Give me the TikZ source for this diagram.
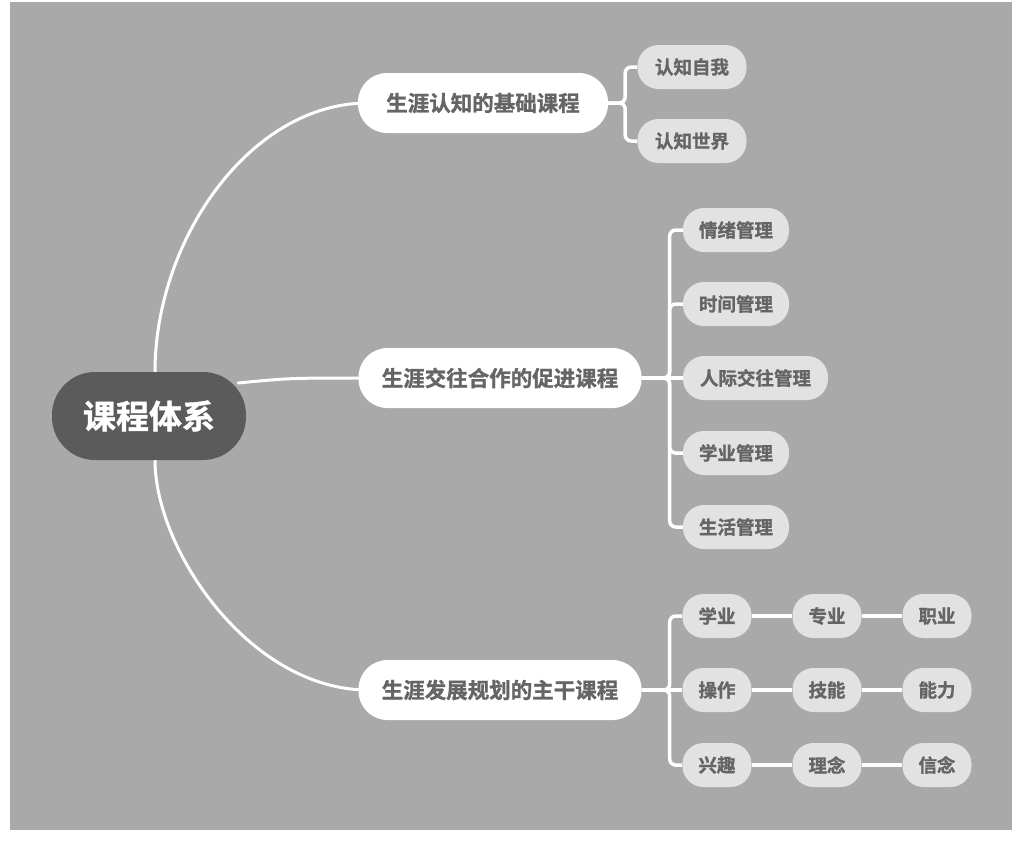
\documentclass[tikz,border=0pt]{standalone}
\usepackage{fontspec}
\newfontfamily\cjk{Noto Sans CJK SC}[BoldFont={Noto Sans CJK SC Bold}, BoldFeatures={FakeBold=1.2}]
\pgfdeclarelayer{back}
\pgfdeclarelayer{lines}
\pgfsetlayers{back,lines,main}
\definecolor{bggray}{HTML}{A9A9A9}
\definecolor{rootfill}{HTML}{5B5B5B}
\definecolor{leaffill}{HTML}{E2E2E2}
\definecolor{txtgray}{HTML}{656565}
\tikzset{
  rootbox/.style={fill=rootfill, rounded corners=43pt, minimum width=194pt, minimum height=88pt, inner sep=0pt, text=white, font=\cjk\bfseries\fontsize{33}{33}\selectfont},
  mainbox/.style={fill=white, rounded corners=29pt, minimum height=60pt, inner sep=0pt, text=txtgray, font=\cjk\bfseries\fontsize{21.5}{22}\selectfont},
  leafbox/.style={fill=leaffill, rounded corners=21pt, minimum height=44pt, inner sep=0pt, text=txtgray, font=\cjk\bfseries\fontsize{18.5}{19}\selectfont},
  link/.style={draw=white, line width=3pt, line cap=round},
  brace/.style={draw=white, line width=3.5pt, rounded corners=6pt}
}
\begin{document}
\begin{tikzpicture}[x=1pt,y=-1pt]
\useasboundingbox (0,0) rectangle (1021,855);
\begin{pgfonlayer}{back}
\fill[white] (0,0) rectangle (1021,855);
\fill[bggray] (10,2) rectangle (1012,830);
\end{pgfonlayer}

\node[rootbox] (root) at (149,416) {课程体系};

\node[mainbox, minimum width=250pt] (m1) at (483,103) {生涯认知的基础课程};
\node[mainbox, minimum width=283pt] (m2) at (500,378) {生涯交往合作的促进课程};
\node[mainbox, minimum width=283pt] (m3) at (500,690) {生涯发展规划的主干课程};

\node[leafbox, minimum width=109pt] (a1) at (692,67) {认知自我};
\node[leafbox, minimum width=109pt] (a2) at (692,141) {认知世界};

\node[leafbox, minimum width=106pt] (b1) at (736,230) {情绪管理};
\node[leafbox, minimum width=106pt] (b2) at (736,304) {时间管理};
\node[leafbox, minimum width=145pt] (b3) at (755.5,378) {人际交往管理};
\node[leafbox, minimum width=106pt] (b4) at (736,453) {学业管理};
\node[leafbox, minimum width=106pt] (b5) at (736,527) {生活管理};

\node[leafbox, minimum width=69pt] (c11) at (717,616) {学业};
\node[leafbox, minimum width=69pt] (c12) at (827,616) {专业};
\node[leafbox, minimum width=69pt] (c13) at (937,616) {职业};
\node[leafbox, minimum width=69pt] (c21) at (717,690) {操作};
\node[leafbox, minimum width=69pt] (c22) at (827,690) {技能};
\node[leafbox, minimum width=69pt] (c23) at (937,690) {能力};
\node[leafbox, minimum width=69pt] (c31) at (717,765) {兴趣};
\node[leafbox, minimum width=69pt] (c32) at (827,765) {理念};
\node[leafbox, minimum width=69pt] (c33) at (937,765) {信念};

\begin{pgfonlayer}{lines}
\draw[link] ([xshift=6pt]root.north) .. controls (155,240) and (250,103) .. ([xshift=10pt]m1.west);
\draw[link] ([xshift=6pt]root.south) .. controls (155,550) and (250,690) .. ([xshift=10pt]m3.west);
\draw[link] ([xshift=-8pt,yshift=33pt]root.east) .. controls (290,378) .. ([xshift=10pt]m2.west);

\draw[brace] (m1.east) -- ++(17,0) |- (a1.west);
\draw[brace] (m1.east) -- ++(17,0) |- (a2.west);

\draw[brace] (m2.east) -- ++(28,0) |- (b1.west);
\draw[brace] (m2.east) -- ++(28,0) |- (b2.west);
\draw[brace] (m2.east) -- (b3.west);
\draw[brace] (m2.east) -- ++(28,0) |- (b4.west);
\draw[brace] (m2.east) -- ++(28,0) |- (b5.west);

\draw[brace] (m3.east) -- ++(28,0) |- (c11.west);
\draw[brace] (m3.east) -- (c21.west);
\draw[brace] (m3.east) -- ++(28,0) |- (c31.west);

\draw[brace] (c11) -- (c12);
\draw[brace] (c12) -- (c13);
\draw[brace] (c21) -- (c22);
\draw[brace] (c22) -- (c23);
\draw[brace] (c31) -- (c32);
\draw[brace] (c32) -- (c33);
\end{pgfonlayer}
\end{tikzpicture}
\end{document}
